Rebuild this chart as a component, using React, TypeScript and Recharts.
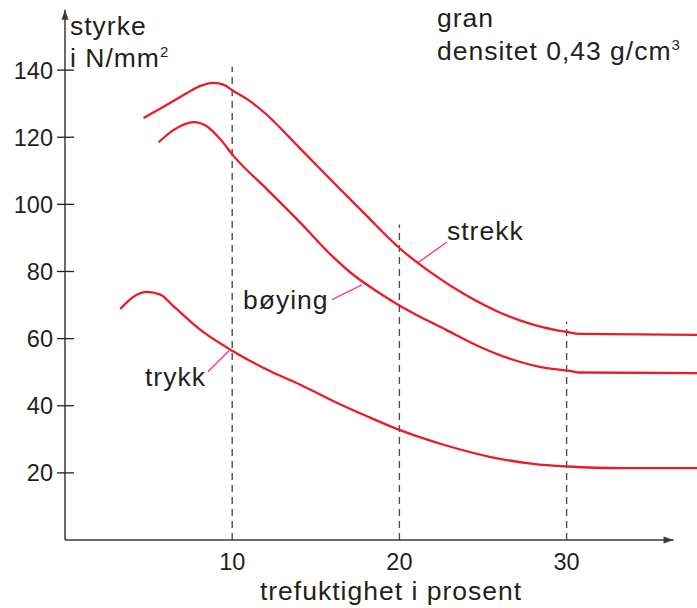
import { LineChart, Line, XAxis, YAxis, ReferenceLine } from "recharts";

// moisture (%) -> strength (N/mm2)
const strekk = [
  [4.7, 125.7], [6.1, 129.7], [7.3, 133.2], [8.1, 135.3], [8.9, 136.2], [9.5, 135.6],
  [10.1, 133.7], [11.0, 131.0], [12.0, 127.0], [14.0, 117.0], [16.0, 106.8], [18.0, 96.8],
  [20.0, 87.0], [22.0, 79.3], [24.0, 72.9], [26.0, 67.8], [28.0, 64.2], [30.0, 62.0],
  [30.8, 61.4], [37.8, 61.1],
].map(([x, y]) => ({ x, y }));

const boying = [
  [5.6, 118.5], [6.5, 122.2], [7.7, 124.5], [8.5, 123.2], [9.3, 119.3], [10.1, 114.3],
  [12.1, 104.4], [14.1, 94.4], [16.0, 84.5], [17.0, 80.0], [18.8, 73.6], [20.1, 69.6],
  [22.8, 62.6], [24.8, 57.6], [26.8, 53.7], [28.8, 51.2], [30.2, 50.4], [30.8, 49.9],
  [37.8, 49.7],
].map(([x, y]) => ({ x, y }));

const trykk = [
  [3.3, 68.8], [4.1, 72.5], [4.9, 73.9], [5.7, 73.1], [6.5, 69.6], [8.1, 62.6],
  [10.0, 56.4], [12.1, 50.7], [14.1, 46.2], [16.0, 41.5], [18.0, 37.0], [20.0, 32.8],
  [22.7, 28.3], [25.4, 24.8], [28.0, 22.7], [30.1, 21.9], [33.3, 21.4], [37.8, 21.4],
].map(([x, y]) => ({ x, y }));

const xTicks = [10, 20, 30];
const yTicks = [20, 40, 60, 80, 100, 120, 140];

// dashed guides: x position and how high they reach
const guides = [
  { x: 10, top: 141 },
  { x: 20, top: 94 },
  { x: 30, top: 65 },
];

// pink leader lines from label to curve
const leaders = [
  { name: "strekk", from: { x: 21.1, y: 82.6 }, to: { x: 22.85, y: 88.8 } },
  { name: "bøying", from: { x: 15.97, y: 71.6 }, to: { x: 17.76, y: 76.0 } },
  { name: "trykk", from: { x: 8.55, y: 50.1 }, to: { x: 9.81, y: 56.4 } },
];

const RED = "#ec1c24";
const INK = "#231f20";
const FONT = "'Liberation Sans', Arial, sans-serif";

const YTick = (props: any) => {
  const { y, payload } = props;
  return (
    <g>
      <line x1={57} x2={74} y1={y} y2={y} stroke={INK} strokeWidth={1.3} />
      <text x={53} y={y} dy="0.36em" textAnchor="end" fontSize={23.5} fill={INK} fontFamily={FONT}>
        {payload.value}
      </text>
    </g>
  );
};

const XTick = (props: any) => {
  const { x, payload } = props;
  return (
    <text x={x} y={570} textAnchor="middle" fontSize={23.5} fill={INK} fontFamily={FONT}>
      {payload.value}
    </text>
  );
};

const ArrowAxis = (dir: "up" | "right") => (props: any) => {
  const { x1, y1, x2, y2 } = props;
  const tip = dir === "up" ? { x: x2, y: Math.min(y1, y2) } : { x: Math.max(x1, x2), y: y2 };
  const head =
    dir === "up"
      ? `${tip.x},${tip.y} ${tip.x - 3.5},${tip.y + 10} ${tip.x + 3.5},${tip.y + 10}`
      : `${tip.x},${tip.y} ${tip.x - 10},${tip.y - 3.5} ${tip.x - 10},${tip.y + 3.5}`;
  return (
    <g>
      <line x1={x1} y1={y1} x2={x2} y2={y2} stroke="#3a3a3a" strokeWidth={1.5} />
      <polygon points={head} fill="#3a3a3a" />
    </g>
  );
};

const LBL = { fontSize: 26.5, letterSpacing: 1 };

export default function App() {
  return (
    <div style={{ position: "relative", width: 697, height: 608, background: "#fff" }}>
      <style>{"body{margin:0}"}</style>
      <LineChart width={697} height={608} margin={{ top: 3, right: 0, bottom: 0, left: 0 }}>
        <XAxis
          type="number"
          dataKey="x"
          domain={[0, 37.8]}
          ticks={xTicks}
          axisLine={false}
          tickLine={false}
          tick={<XTick />}
          height={68}
          allowDataOverflow
        />
        <YAxis
          type="number"
          dataKey="y"
          domain={[0, 160]}
          ticks={yTicks}
          axisLine={false}
          tickLine={false}
          tickSize={0}
          tick={<YTick />}
          width={65}
          allowDataOverflow
        />
        {guides.map((g) => (
          <ReferenceLine
            key={g.x}
            segment={[{ x: g.x, y: 0 }, { x: g.x, y: g.top }]}
            stroke="#4d4d4d"
            strokeWidth={1.4}
            strokeDasharray="7 5"
          />
        ))}
        <ReferenceLine segment={[{ x: 0, y: 0 }, { x: 0, y: 158 }]} shape={ArrowAxis("up")} ifOverflow="visible" />
        <ReferenceLine segment={[{ x: 0, y: 0 }, { x: 36.4, y: 0 }]} shape={ArrowAxis("right")} ifOverflow="visible" />
        {leaders.map((l) => (
          <ReferenceLine key={l.name} segment={[l.from, l.to]} stroke="#e8409c" strokeWidth={1.4} />
        ))}
        <Line data={strekk} dataKey="y" type="monotone" stroke={RED} strokeWidth={2.3} dot={false} isAnimationActive={false} />
        <Line data={boying} dataKey="y" type="monotone" stroke={RED} strokeWidth={2.3} dot={false} isAnimationActive={false} />
        <Line data={trykk} dataKey="y" type="monotone" stroke={RED} strokeWidth={2.3} dot={false} isAnimationActive={false} />
      </LineChart>
      <svg
        width={697}
        height={608}
        style={{ position: "absolute", left: 0, top: 0, pointerEvents: "none" }}
        fontFamily={FONT}
        fill={INK}
      >
        <text x={70} y={35} {...LBL}>styrke</text>
        <text x={70} y={67} {...LBL}>
          i N/mm<tspan fontSize={15} dy={-10}>2</tspan>
        </text>
        <text x={437} y={27} {...LBL}>gran</text>
        <text x={437} y={60} {...LBL}>
          densitet 0,43 g/cm<tspan fontSize={15} dy={-10}>3</tspan>
        </text>
        <text x={447} y={240} {...LBL}>strekk</text>
        <text x={243} y={309} {...LBL}>bøying</text>
        <text x={145} y={386} {...LBL}>trykk</text>
        <text x={391} y={600} {...LBL} textAnchor="middle">trefuktighet i prosent</text>
      </svg>
    </div>
  );
}
